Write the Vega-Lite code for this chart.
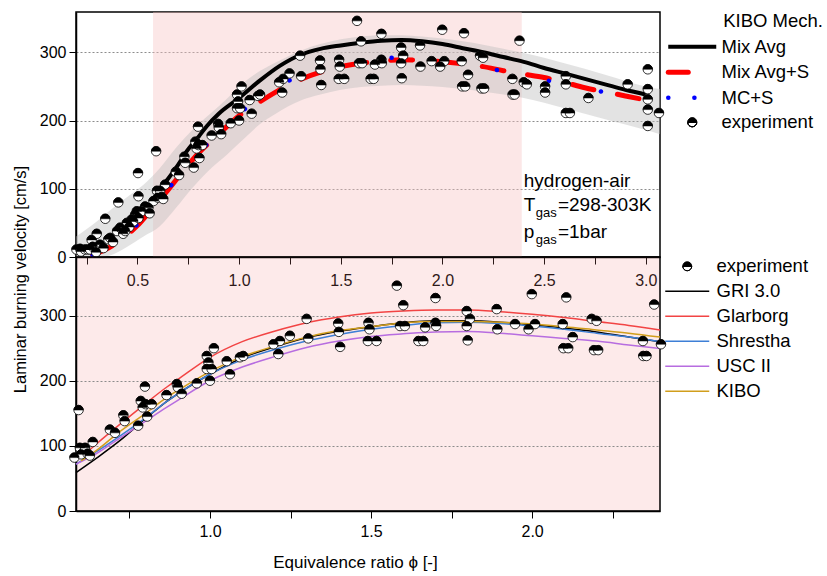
{
  "$schema": "https://vega.github.io/schema/vega-lite/v6.json",
  "background": "white",
  "padding": {"left": 11, "top": 11, "right": 0, "bottom": 0},
  "bounds": "flush",
  "spacing": 0,
  "resolve": {"scale": {"color": "independent"}, "legend": {"color": "independent"}},
  "config": {
    "font": "Liberation Sans",
    "axis": {"labelFont": "Liberation Sans", "titleFont": "Liberation Sans", "labelColor": "black", "titleColor": "black", "domainColor": "black", "tickColor": "black"},
    "legend": {"labelFont": "Liberation Sans", "titleFont": "Liberation Sans"}
  },
  "datasets": {
    "region": [{"x1": 0.577, "x2": 2.39}],
    "band": [
      {"phi": 0.198, "lo": 0, "hi": 30}, {"phi": 0.3, "lo": 0, "hi": 52}, {"phi": 0.36, "lo": 2, "hi": 67},
      {"phi": 0.45, "lo": 15, "hi": 88}, {"phi": 0.53, "lo": 30, "hi": 106}, {"phi": 0.61, "lo": 45, "hi": 130},
      {"phi": 0.69, "lo": 72, "hi": 160}, {"phi": 0.77, "lo": 101, "hi": 186}, {"phi": 0.855, "lo": 128, "hi": 209},
      {"phi": 0.94, "lo": 150, "hi": 232}, {"phi": 1.02, "lo": 172, "hi": 255}, {"phi": 1.1, "lo": 194, "hi": 272},
      {"phi": 1.18, "lo": 210, "hi": 285}, {"phi": 1.3, "lo": 229, "hi": 302}, {"phi": 1.4, "lo": 238, "hi": 312},
      {"phi": 1.5, "lo": 245, "hi": 319}, {"phi": 1.6, "lo": 249, "hi": 323}, {"phi": 1.7, "lo": 251, "hi": 325},
      {"phi": 1.8, "lo": 252, "hi": 325}, {"phi": 1.9, "lo": 251, "hi": 323}, {"phi": 2.0, "lo": 249, "hi": 320},
      {"phi": 2.1, "lo": 246, "hi": 316}, {"phi": 2.2, "lo": 242, "hi": 311}, {"phi": 2.3, "lo": 238, "hi": 305},
      {"phi": 2.4, "lo": 233, "hi": 299}, {"phi": 2.5, "lo": 226, "hi": 292}, {"phi": 2.6, "lo": 218, "hi": 284},
      {"phi": 2.7, "lo": 210, "hi": 276}, {"phi": 2.8, "lo": 202, "hi": 267}, {"phi": 2.9, "lo": 194, "hi": 258},
      {"phi": 3.0, "lo": 186, "hi": 250}, {"phi": 3.07, "lo": 180, "hi": 246}
    ],
    "toplines": [
      {"series": "Mix Avg", "phi": 0.58, "v": 92}, {"series": "Mix Avg", "phi": 0.612, "v": 101}, {"series": "Mix Avg", "phi": 0.7, "v": 135},
      {"series": "Mix Avg", "phi": 0.743, "v": 155}, {"series": "Mix Avg", "phi": 0.8, "v": 176}, {"series": "Mix Avg", "phi": 0.842, "v": 192},
      {"series": "Mix Avg", "phi": 0.9, "v": 210}, {"series": "Mix Avg", "phi": 1.0, "v": 233}, {"series": "Mix Avg", "phi": 1.1, "v": 258},
      {"series": "Mix Avg", "phi": 1.2, "v": 280}, {"series": "Mix Avg", "phi": 1.3, "v": 296}, {"series": "Mix Avg", "phi": 1.4, "v": 305},
      {"series": "Mix Avg", "phi": 1.5, "v": 310}, {"series": "Mix Avg", "phi": 1.6, "v": 314}, {"series": "Mix Avg", "phi": 1.7, "v": 317},
      {"series": "Mix Avg", "phi": 1.8, "v": 318}, {"series": "Mix Avg", "phi": 1.9, "v": 316}, {"series": "Mix Avg", "phi": 2.0, "v": 312},
      {"series": "Mix Avg", "phi": 2.1, "v": 306}, {"series": "Mix Avg", "phi": 2.2, "v": 300}, {"series": "Mix Avg", "phi": 2.3, "v": 293},
      {"series": "Mix Avg", "phi": 2.4, "v": 286}, {"series": "Mix Avg", "phi": 2.5, "v": 277}, {"series": "Mix Avg", "phi": 2.6, "v": 269},
      {"series": "Mix Avg", "phi": 2.7, "v": 261}, {"series": "Mix Avg", "phi": 2.8, "v": 253}, {"series": "Mix Avg", "phi": 2.9, "v": 245},
      {"series": "Mix Avg", "phi": 3.0, "v": 238},
      {"series": "Mix Avg+S", "phi": 0.28, "v": 3}, {"series": "Mix Avg+S", "phi": 0.35, "v": 12}, {"series": "Mix Avg+S", "phi": 0.43, "v": 28},
      {"series": "Mix Avg+S", "phi": 0.5, "v": 46}, {"series": "Mix Avg+S", "phi": 0.57, "v": 70}, {"series": "Mix Avg+S", "phi": 0.65, "v": 98},
      {"series": "Mix Avg+S", "phi": 0.75, "v": 135}, {"series": "Mix Avg+S", "phi": 0.8, "v": 152}, {"series": "Mix Avg+S", "phi": 0.9, "v": 180},
      {"series": "Mix Avg+S", "phi": 1.0, "v": 207}, {"series": "Mix Avg+S", "phi": 1.1, "v": 227}, {"series": "Mix Avg+S", "phi": 1.2, "v": 245},
      {"series": "Mix Avg+S", "phi": 1.3, "v": 260}, {"series": "Mix Avg+S", "phi": 1.4, "v": 271}, {"series": "Mix Avg+S", "phi": 1.5, "v": 279},
      {"series": "Mix Avg+S", "phi": 1.6, "v": 284}, {"series": "Mix Avg+S", "phi": 1.7, "v": 287}, {"series": "Mix Avg+S", "phi": 1.8, "v": 289},
      {"series": "Mix Avg+S", "phi": 1.9, "v": 288}, {"series": "Mix Avg+S", "phi": 2.0, "v": 286}, {"series": "Mix Avg+S", "phi": 2.1, "v": 283},
      {"series": "Mix Avg+S", "phi": 2.2, "v": 279}, {"series": "Mix Avg+S", "phi": 2.3, "v": 273}, {"series": "Mix Avg+S", "phi": 2.4, "v": 268},
      {"series": "Mix Avg+S", "phi": 2.5, "v": 263}, {"series": "Mix Avg+S", "phi": 2.6, "v": 256}, {"series": "Mix Avg+S", "phi": 2.7, "v": 248},
      {"series": "Mix Avg+S", "phi": 2.8, "v": 242}, {"series": "Mix Avg+S", "phi": 2.9, "v": 236}, {"series": "Mix Avg+S", "phi": 3.0, "v": 230},
      {"series": "MC+S", "phi": 0.28, "v": 3}, {"series": "MC+S", "phi": 0.35, "v": 13}, {"series": "MC+S", "phi": 0.43, "v": 30},
      {"series": "MC+S", "phi": 0.5, "v": 48}, {"series": "MC+S", "phi": 0.6, "v": 80}, {"series": "MC+S", "phi": 0.7, "v": 118},
      {"series": "MC+S", "phi": 0.8, "v": 152}, {"series": "MC+S", "phi": 0.9, "v": 183}, {"series": "MC+S", "phi": 1.0, "v": 210},
      {"series": "MC+S", "phi": 1.1, "v": 232}, {"series": "MC+S", "phi": 1.2, "v": 250}, {"series": "MC+S", "phi": 1.34, "v": 274},
      {"series": "MC+S", "phi": 1.4, "v": 280}, {"series": "MC+S", "phi": 1.5, "v": 286}, {"series": "MC+S", "phi": 1.6, "v": 291},
      {"series": "MC+S", "phi": 1.7, "v": 292}, {"series": "MC+S", "phi": 1.8, "v": 292}, {"series": "MC+S", "phi": 1.86, "v": 291},
      {"series": "MC+S", "phi": 2.0, "v": 287}, {"series": "MC+S", "phi": 2.1, "v": 282}, {"series": "MC+S", "phi": 2.25, "v": 275},
      {"series": "MC+S", "phi": 2.4, "v": 266}, {"series": "MC+S", "phi": 2.51, "v": 259}, {"series": "MC+S", "phi": 2.6, "v": 253},
      {"series": "MC+S", "phi": 2.77, "v": 243}, {"series": "MC+S", "phi": 2.9, "v": 235}, {"series": "MC+S", "phi": 3.0, "v": 229}
    ],
    "botlines": [
      {"model": "GRI 3.0", "phi": 0.584, "v": 59}, {"model": "GRI 3.0", "phi": 0.65, "v": 82}, {"model": "GRI 3.0", "phi": 0.72, "v": 108},
      {"model": "GRI 3.0", "phi": 0.8, "v": 142}, {"model": "GRI 3.0", "phi": 0.865, "v": 168}, {"model": "GRI 3.0", "phi": 0.9, "v": 180},
      {"model": "GRI 3.0", "phi": 1.0, "v": 210}, {"model": "GRI 3.0", "phi": 1.1, "v": 235}, {"model": "GRI 3.0", "phi": 1.2, "v": 252},
      {"model": "GRI 3.0", "phi": 1.3, "v": 266}, {"model": "GRI 3.0", "phi": 1.4, "v": 276}, {"model": "GRI 3.0", "phi": 1.5, "v": 283},
      {"model": "GRI 3.0", "phi": 1.6, "v": 289}, {"model": "GRI 3.0", "phi": 1.7, "v": 292}, {"model": "GRI 3.0", "phi": 1.8, "v": 292},
      {"model": "GRI 3.0", "phi": 1.9, "v": 290}, {"model": "GRI 3.0", "phi": 2.0, "v": 286}, {"model": "GRI 3.0", "phi": 2.1, "v": 281},
      {"model": "GRI 3.0", "phi": 2.2, "v": 275}, {"model": "GRI 3.0", "phi": 2.3, "v": 267}, {"model": "GRI 3.0", "phi": 2.397, "v": 260},
      {"model": "Glarborg", "phi": 0.6, "v": 82}, {"model": "Glarborg", "phi": 0.65, "v": 104}, {"model": "Glarborg", "phi": 0.72, "v": 133},
      {"model": "Glarborg", "phi": 0.8, "v": 165}, {"model": "Glarborg", "phi": 0.865, "v": 190}, {"model": "Glarborg", "phi": 0.9, "v": 202},
      {"model": "Glarborg", "phi": 1.0, "v": 236}, {"model": "Glarborg", "phi": 1.1, "v": 260}, {"model": "Glarborg", "phi": 1.2, "v": 276},
      {"model": "Glarborg", "phi": 1.3, "v": 289}, {"model": "Glarborg", "phi": 1.4, "v": 298}, {"model": "Glarborg", "phi": 1.5, "v": 304},
      {"model": "Glarborg", "phi": 1.6, "v": 307}, {"model": "Glarborg", "phi": 1.7, "v": 308.5}, {"model": "Glarborg", "phi": 1.8, "v": 308.5},
      {"model": "Glarborg", "phi": 1.9, "v": 306}, {"model": "Glarborg", "phi": 2.0, "v": 302}, {"model": "Glarborg", "phi": 2.1, "v": 297},
      {"model": "Glarborg", "phi": 2.2, "v": 291}, {"model": "Glarborg", "phi": 2.3, "v": 285}, {"model": "Glarborg", "phi": 2.397, "v": 278},
      {"model": "Shrestha", "phi": 0.584, "v": 72}, {"model": "Shrestha", "phi": 0.65, "v": 92}, {"model": "Shrestha", "phi": 0.72, "v": 115},
      {"model": "Shrestha", "phi": 0.8, "v": 143}, {"model": "Shrestha", "phi": 0.865, "v": 168}, {"model": "Shrestha", "phi": 0.9, "v": 180},
      {"model": "Shrestha", "phi": 1.0, "v": 210}, {"model": "Shrestha", "phi": 1.1, "v": 232}, {"model": "Shrestha", "phi": 1.2, "v": 248},
      {"model": "Shrestha", "phi": 1.3, "v": 261}, {"model": "Shrestha", "phi": 1.4, "v": 271}, {"model": "Shrestha", "phi": 1.5, "v": 279},
      {"model": "Shrestha", "phi": 1.6, "v": 285}, {"model": "Shrestha", "phi": 1.7, "v": 289}, {"model": "Shrestha", "phi": 1.8, "v": 290},
      {"model": "Shrestha", "phi": 1.9, "v": 288}, {"model": "Shrestha", "phi": 2.0, "v": 284}, {"model": "Shrestha", "phi": 2.1, "v": 279},
      {"model": "Shrestha", "phi": 2.2, "v": 273}, {"model": "Shrestha", "phi": 2.3, "v": 267}, {"model": "Shrestha", "phi": 2.397, "v": 260},
      {"model": "USC II", "phi": 0.584, "v": 72}, {"model": "USC II", "phi": 0.65, "v": 89}, {"model": "USC II", "phi": 0.72, "v": 112},
      {"model": "USC II", "phi": 0.8, "v": 138}, {"model": "USC II", "phi": 0.865, "v": 159}, {"model": "USC II", "phi": 0.9, "v": 170},
      {"model": "USC II", "phi": 1.0, "v": 200}, {"model": "USC II", "phi": 1.1, "v": 221}, {"model": "USC II", "phi": 1.2, "v": 237},
      {"model": "USC II", "phi": 1.3, "v": 251}, {"model": "USC II", "phi": 1.4, "v": 261}, {"model": "USC II", "phi": 1.5, "v": 268},
      {"model": "USC II", "phi": 1.6, "v": 272}, {"model": "USC II", "phi": 1.7, "v": 275}, {"model": "USC II", "phi": 1.8, "v": 275.5},
      {"model": "USC II", "phi": 1.9, "v": 273}, {"model": "USC II", "phi": 2.0, "v": 269}, {"model": "USC II", "phi": 2.1, "v": 265},
      {"model": "USC II", "phi": 2.2, "v": 261}, {"model": "USC II", "phi": 2.3, "v": 255}, {"model": "USC II", "phi": 2.397, "v": 249.5},
      {"model": "KIBO", "phi": 0.6, "v": 77}, {"model": "KIBO", "phi": 0.65, "v": 94}, {"model": "KIBO", "phi": 0.72, "v": 122},
      {"model": "KIBO", "phi": 0.8, "v": 150}, {"model": "KIBO", "phi": 0.865, "v": 174}, {"model": "KIBO", "phi": 0.9, "v": 185},
      {"model": "KIBO", "phi": 1.0, "v": 214}, {"model": "KIBO", "phi": 1.1, "v": 237}, {"model": "KIBO", "phi": 1.2, "v": 253},
      {"model": "KIBO", "phi": 1.3, "v": 267}, {"model": "KIBO", "phi": 1.4, "v": 277}, {"model": "KIBO", "phi": 1.5, "v": 283},
      {"model": "KIBO", "phi": 1.6, "v": 289}, {"model": "KIBO", "phi": 1.7, "v": 291}, {"model": "KIBO", "phi": 1.8, "v": 291},
      {"model": "KIBO", "phi": 1.9, "v": 290}, {"model": "KIBO", "phi": 2.0, "v": 287}, {"model": "KIBO", "phi": 2.1, "v": 283},
      {"model": "KIBO", "phi": 2.2, "v": 278}, {"model": "KIBO", "phi": 2.3, "v": 273}, {"model": "KIBO", "phi": 2.397, "v": 267}
    ],
    "exp": [
      {"phi": 0.2, "v": 11}, {"phi": 0.218, "v": 12}, {"phi": 0.223, "v": 8}, {"phi": 0.242, "v": 11}, {"phi": 0.256, "v": 11},
      {"phi": 0.267, "v": 11}, {"phi": 0.275, "v": 25}, {"phi": 0.28, "v": 15}, {"phi": 0.297, "v": 7}, {"phi": 0.3, "v": 34},
      {"phi": 0.316, "v": 18}, {"phi": 0.333, "v": 13}, {"phi": 0.342, "v": 56}, {"phi": 0.357, "v": 26}, {"phi": 0.366, "v": 28},
      {"phi": 0.38, "v": 22}, {"phi": 0.4, "v": 38}, {"phi": 0.406, "v": 80}, {"phi": 0.415, "v": 43}, {"phi": 0.43, "v": 34},
      {"phi": 0.44, "v": 38}, {"phi": 0.448, "v": 50}, {"phi": 0.46, "v": 44}, {"phi": 0.472, "v": 55}, {"phi": 0.48, "v": 52},
      {"phi": 0.489, "v": 62}, {"phi": 0.497, "v": 67}, {"phi": 0.503, "v": 123}, {"phi": 0.505, "v": 89}, {"phi": 0.505, "v": 57},
      {"phi": 0.52, "v": 67}, {"phi": 0.538, "v": 74}, {"phi": 0.554, "v": 72}, {"phi": 0.56, "v": 64}, {"phi": 0.579, "v": 82},
      {"phi": 0.592, "v": 155}, {"phi": 0.596, "v": 97}, {"phi": 0.6, "v": 87}, {"phi": 0.612, "v": 97}, {"phi": 0.62, "v": 88},
      {"phi": 0.627, "v": 85}, {"phi": 0.636, "v": 106}, {"phi": 0.689, "v": 125}, {"phi": 0.705, "v": 120}, {"phi": 0.731, "v": 147},
      {"phi": 0.735, "v": 138}, {"phi": 0.777, "v": 131}, {"phi": 0.785, "v": 169}, {"phi": 0.791, "v": 159}, {"phi": 0.798, "v": 191},
      {"phi": 0.8, "v": 164}, {"phi": 0.805, "v": 145}, {"phi": 0.819, "v": 164}, {"phi": 0.865, "v": 178}, {"phi": 0.897, "v": 195},
      {"phi": 0.9, "v": 190}, {"phi": 0.912, "v": 180}, {"phi": 0.959, "v": 196}, {"phi": 0.99, "v": 238}, {"phi": 0.995, "v": 228},
      {"phi": 0.99, "v": 218}, {"phi": 1.0, "v": 200}, {"phi": 1.005, "v": 218}, {"phi": 1.012, "v": 250}, {"phi": 1.052, "v": 230},
      {"phi": 1.062, "v": 210}, {"phi": 1.093, "v": 236}, {"phi": 1.103, "v": 238}, {"phi": 1.197, "v": 256}, {"phi": 1.212, "v": 241},
      {"phi": 1.217, "v": 261}, {"phi": 1.248, "v": 269}, {"phi": 1.3, "v": 295}, {"phi": 1.305, "v": 265}, {"phi": 1.398, "v": 288},
      {"phi": 1.4, "v": 275}, {"phi": 1.404, "v": 252}, {"phi": 1.49, "v": 261}, {"phi": 1.492, "v": 289}, {"phi": 1.495, "v": 279},
      {"phi": 1.517, "v": 261}, {"phi": 1.58, "v": 346}, {"phi": 1.59, "v": 284}, {"phi": 1.6, "v": 316}, {"phi": 1.605, "v": 284},
      {"phi": 1.647, "v": 261}, {"phi": 1.662, "v": 261}, {"phi": 1.668, "v": 282}, {"phi": 1.7, "v": 327}, {"phi": 1.7, "v": 289},
      {"phi": 1.702, "v": 284}, {"phi": 1.797, "v": 307}, {"phi": 1.797, "v": 284}, {"phi": 1.8, "v": 262}, {"phi": 1.807, "v": 295},
      {"phi": 1.89, "v": 310}, {"phi": 1.892, "v": 279}, {"phi": 1.947, "v": 287}, {"phi": 1.989, "v": 279}, {"phi": 1.999, "v": 333},
      {"phi": 2.009, "v": 287}, {"phi": 2.095, "v": 287}, {"phi": 2.097, "v": 250}, {"phi": 2.106, "v": 328}, {"phi": 2.112, "v": 250},
      {"phi": 2.126, "v": 267}, {"phi": 2.185, "v": 295}, {"phi": 2.2, "v": 292}, {"phi": 2.192, "v": 247}, {"phi": 2.205, "v": 247},
      {"phi": 2.344, "v": 261}, {"phi": 2.345, "v": 238}, {"phi": 2.355, "v": 238}, {"phi": 2.379, "v": 317}, {"phi": 2.4, "v": 256},
      {"phi": 2.415, "v": 253}, {"phi": 2.505, "v": 250}, {"phi": 2.505, "v": 241}, {"phi": 2.607, "v": 265}, {"phi": 2.607, "v": 253},
      {"phi": 2.607, "v": 211}, {"phi": 2.627, "v": 211}, {"phi": 2.718, "v": 233}, {"phi": 2.911, "v": 253}, {"phi": 3.01, "v": 275},
      {"phi": 3.01, "v": 246}, {"phi": 3.01, "v": 231}, {"phi": 3.01, "v": 216}, {"phi": 3.01, "v": 192}, {"phi": 3.065, "v": 211}
    ],
    "notes": [
      {"phi": 2.40, "v": 111, "text": "hydrogen-air"},
      {"phi": 2.40, "v": 76, "text": "T"},
      {"phi": 2.568, "v": 76, "text": "=298-303K"},
      {"phi": 2.40, "v": 37, "text": "p"},
      {"phi": 2.568, "v": 37, "text": "=1bar"}
    ],
    "subs": [
      {"phi": 2.459, "v": 65, "text": "gas"},
      {"phi": 2.459, "v": 25, "text": "gas"}
    ]
  },
  "vconcat": [
    {
      "width": 584,
      "height": 245,
      "view": {"stroke": "black", "strokeWidth": 1.5},
      "layer": [
        {
          "data": {"name": "region"},
          "mark": {"type": "rect", "color": "#f8c2c2", "opacity": 0.4},
          "encoding": {
            "x": {"field": "x1", "type": "quantitative", "scale": {"domain": [0.198, 3.07], "nice": false, "zero": false}},
            "x2": {"field": "x2"}
          }
        },
        {
          "data": {"name": "band"},
          "mark": {"type": "area", "color": "#bdbdbd", "opacity": 0.42, "interpolate": "monotone"},
          "encoding": {
            "x": {"field": "phi", "type": "quantitative", "scale": {"domain": [0.198, 3.07], "nice": false, "zero": false},
              "axis": {"title": null, "values": [0.25, 0.5, 0.75, 1.0, 1.25, 1.5, 1.75, 2.0, 2.25, 2.5, 2.75, 3.0],
                "labelExpr": "datum.value % 0.5 === 0 ? format(datum.value, '.1f') : ''",
                "tickSize": 7, "labelPadding": 8, "labelFontSize": 16, "grid": false, "domainWidth": 1.5, "labelFlush": false, "labelOverlap": false}},
            "y": {"field": "lo", "type": "quantitative", "scale": {"domain": [0, 359], "nice": false, "zero": false},
              "axis": {"title": null, "values": [0, 25, 50, 75, 100, 125, 150, 175, 200, 225, 250, 275, 300, 325, 350],
                "labelExpr": "datum.value % 50 === 0 ? datum.label : ''",
                "tickSize": {"condition": {"test": "datum.value % 50 === 0", "value": 7}, "value": 4},
                "grid": true, "gridDash": [2, 2], "gridColor": "#8c8c8c", "gridWidth": 1,
                "gridOpacity": {"condition": {"test": "datum.value % 50 === 0 && datum.value > 0", "value": 1}, "value": 0},
                "labelPadding": 3, "labelFontSize": 16, "domainWidth": 1.5, "labelOverlap": false}},
            "y2": {"field": "hi"}
          }
        },
        {
          "data": {"name": "toplines"},
          "transform": [{"filter": "datum.series === 'Mix Avg'"}],
          "mark": {"type": "line", "interpolate": "monotone", "strokeWidth": 4},
          "encoding": {
            "x": {"field": "phi", "type": "quantitative", "scale": {"domain": [0.198, 3.07], "nice": false, "zero": false}},
            "y": {"field": "v", "type": "quantitative", "scale": {"domain": [0, 359], "nice": false, "zero": false}},
            "color": {"field": "series", "type": "nominal",
              "scale": {"domain": ["Mix Avg", "Mix Avg+S", "MC+S", "experiment"], "range": ["black", "red", "blue", "black"]},
              "legend": {"title": "KIBO Mech.", "orient": "right", "offset": 4, "padding": 0,
                "titleFontSize": 18.5, "titleFontWeight": "normal", "titleColor": "black", "titleAnchor": "end", "titlePadding": 7,
                "labelFontSize": 18.5, "labelColor": "black", "labelOffset": 39, "rowPadding": 5.5, "symbolSize": 100, "labelLimit": 300,
                "encode": {
                  "title": {"update": {"dx": {"value": 10}}},
                  "symbols": {"update": {
                  "shape": {"signal": "datum.value === 'experiment' ? 'M2.9,0A0.9,0.9,0,0,1,4.7,0ZM2.9,0A0.9,0.9,0,0,0,4.7,0ZM4.7,0A0.9,0.9,0,0,1,2.9,0Z' : 'M-1,0L8.6,0'"},
                  "stroke": {"signal": "datum.value === 'Mix Avg+S' ? 'red' : datum.value === 'MC+S' ? 'blue' : 'black'"},
                  "strokeWidth": {"signal": "datum.value === 'Mix Avg' ? 4 : datum.value === 'Mix Avg+S' ? 5 : datum.value === 'MC+S' ? 4.5 : 1"},
                  "strokeDash": {"signal": "datum.value === 'Mix Avg+S' ? [20, 200] : datum.value === 'MC+S' ? [0.1, 26] : [1, 0]"},
                  "strokeCap": {"signal": "datum.value === 'Mix Avg' ? 'butt' : 'round'"},
                  "fill": {"signal": "datum.value === 'experiment' ? 'black' : 'transparent'"},
                  "opacity": {"value": 1}
                }}}}
            }
          }
        },
        {
          "data": {"name": "toplines"},
          "transform": [{"filter": "datum.series === 'Mix Avg+S'"}],
          "mark": {"type": "line", "interpolate": "monotone", "strokeWidth": 5, "strokeDash": [22, 24], "strokeCap": "round"},
          "encoding": {
            "x": {"field": "phi", "type": "quantitative", "scale": {"domain": [0.198, 3.07], "nice": false, "zero": false}},
            "y": {"field": "v", "type": "quantitative", "scale": {"domain": [0, 359], "nice": false, "zero": false}},
            "color": {"field": "series", "type": "nominal",
              "scale": {"domain": ["Mix Avg", "Mix Avg+S", "MC+S", "experiment"], "range": ["black", "red", "blue", "black"]}}
          }
        },
        {
          "data": {"name": "toplines"},
          "transform": [{"filter": "datum.series === 'MC+S'"}],
          "mark": {"type": "line", "interpolate": "monotone", "strokeWidth": 4.5, "strokeDash": [0.1, 53], "strokeCap": "round"},
          "encoding": {
            "x": {"field": "phi", "type": "quantitative", "scale": {"domain": [0.198, 3.07], "nice": false, "zero": false}},
            "y": {"field": "v", "type": "quantitative", "scale": {"domain": [0, 359], "nice": false, "zero": false}},
            "color": {"field": "series", "type": "nominal",
              "scale": {"domain": ["Mix Avg", "Mix Avg+S", "MC+S", "experiment"], "range": ["black", "red", "blue", "black"]}}
          }
        },
        {
          "data": {"name": "exp"},
          "mark": {"type": "point", "shape": "circle", "filled": true, "fill": "white", "stroke": "black", "strokeWidth": 0.8, "size": 90, "opacity": 1},
          "encoding": {
            "x": {"field": "phi", "type": "quantitative", "scale": {"domain": [0.198, 3.07], "nice": false, "zero": false}},
            "y": {"field": "v", "type": "quantitative", "scale": {"domain": [0, 359], "nice": false, "zero": false}}
          }
        },
        {
          "data": {"name": "exp"},
          "mark": {"type": "point", "shape": "M-1,0A1,1,0,0,1,1,0Z", "filled": true, "fill": "black", "stroke": "black", "strokeWidth": 0.5, "size": 90, "opacity": 1},
          "encoding": {
            "x": {"field": "phi", "type": "quantitative", "scale": {"domain": [0.198, 3.07], "nice": false, "zero": false}},
            "y": {"field": "v", "type": "quantitative", "scale": {"domain": [0, 359], "nice": false, "zero": false}}
          }
        },
        {
          "data": {"name": "notes"},
          "mark": {"type": "text", "align": "left", "baseline": "middle", "fontSize": 19, "font": "Liberation Sans", "color": "black"},
          "encoding": {
            "x": {"field": "phi", "type": "quantitative", "scale": {"domain": [0.198, 3.07], "nice": false, "zero": false}},
            "y": {"field": "v", "type": "quantitative", "scale": {"domain": [0, 359], "nice": false, "zero": false}},
            "text": {"field": "text"}
          }
        },
        {
          "data": {"name": "subs"},
          "mark": {"type": "text", "align": "left", "baseline": "middle", "fontSize": 13, "font": "Liberation Sans", "color": "black"},
          "encoding": {
            "x": {"field": "phi", "type": "quantitative", "scale": {"domain": [0.198, 3.07], "nice": false, "zero": false}},
            "y": {"field": "v", "type": "quantitative", "scale": {"domain": [0, 359], "nice": false, "zero": false}},
            "text": {"field": "text"}
          }
        }
      ]
    },
    {
      "width": 584,
      "height": 254,
      "view": {"fill": "#f28c8c", "fillOpacity": 0.18, "stroke": "black", "strokeWidth": 1.5},
      "layer": [
        {
          "data": {"name": "botlines"},
          "mark": {"type": "line", "interpolate": "monotone", "strokeWidth": 1.5},
          "encoding": {
            "x": {"field": "phi", "type": "quantitative", "scale": {"domain": [0.584, 2.397], "nice": false, "zero": false},
              "axis": {"title": "Equivalence ratio ϕ [-]", "values": [0.75, 1.0, 1.25, 1.5, 1.75, 2.0, 2.25],
                "labelExpr": "datum.value % 0.5 === 0 ? format(datum.value, '.1f') : ''",
                "tickSize": 7, "labelPadding": 5, "labelFontSize": 16, "grid": false, "domainWidth": 1.5,
                "titleFontSize": 17, "titleFontWeight": "normal", "titlePadding": 15, "titleX": 279, "labelOverlap": false}},
            "y": {"field": "v", "type": "quantitative", "scale": {"domain": [0, 390], "nice": false, "zero": false},
              "axis": {"title": "Laminar burning velocity [cm/s]", "values": [0, 25, 50, 75, 100, 125, 150, 175, 200, 225, 250, 275, 300, 325, 350, 375],
                "labelExpr": "datum.value % 50 === 0 ? datum.label : ''",
                "tickSize": {"condition": {"test": "datum.value % 50 === 0", "value": 7}, "value": 4},
                "grid": true, "gridDash": [2, 2], "gridColor": "#8c8c8c", "gridWidth": 1,
                "gridOpacity": {"condition": {"test": "datum.value % 50 === 0 && datum.value > 0", "value": 1}, "value": 0},
                "labelPadding": 3, "labelFontSize": 16, "domainWidth": 1.5, "labelOverlap": false,
                "titleFontSize": 16.5, "titleFontWeight": "normal", "titleX": -48, "titleY": 22, "titleAngle": 270, "titleBaseline": "bottom", "titleAlign": "center"}},
            "color": {"field": "model", "type": "nominal",
              "scale": {"domain": ["experiment", "GRI 3.0", "Glarborg", "Shrestha", "USC II", "KIBO"], "range": ["black", "black", "#f24444", "#3d7fd6", "#b76de0", "#d19e1c"]},
              "legend": {"title": null, "orient": "right", "offset": -2, "padding": 0,
                "labelFontSize": 18.5, "labelColor": "black", "labelOffset": 37, "rowPadding": 6, "symbolSize": 100, "labelLimit": 300,
                "encode": {"symbols": {"update": {
                  "shape": {"signal": "datum.value === 'experiment' ? 'M2.5,0A0.9,0.9,0,0,1,4.3,0ZM2.5,0A0.9,0.9,0,0,0,4.3,0ZM4.3,0A0.9,0.9,0,0,1,2.5,0Z' : 'M-1,0L7.8,0'"},
                  "stroke": {"signal": "datum.value === 'Glarborg' ? '#f24444' : datum.value === 'Shrestha' ? '#3d7fd6' : datum.value === 'USC II' ? '#b76de0' : datum.value === 'KIBO' ? '#d19e1c' : 'black'"},
                  "strokeWidth": {"signal": "datum.value === 'experiment' ? 1 : 1.5"},
                  "fill": {"signal": "datum.value === 'experiment' ? 'black' : 'transparent'"},
                  "opacity": {"value": 1}
                }}}}
            }
          }
        },
        {
          "data": {"name": "exp"},
          "transform": [{"filter": "datum.phi >= 0.575 && datum.phi <= 2.405"}],
          "mark": {"type": "point", "shape": "circle", "filled": true, "fill": "white", "stroke": "black", "strokeWidth": 0.8, "size": 90, "opacity": 1},
          "encoding": {
            "x": {"field": "phi", "type": "quantitative", "scale": {"domain": [0.584, 2.397], "nice": false, "zero": false}},
            "y": {"field": "v", "type": "quantitative", "scale": {"domain": [0, 390], "nice": false, "zero": false}}
          }
        },
        {
          "data": {"name": "exp"},
          "transform": [{"filter": "datum.phi >= 0.575 && datum.phi <= 2.405"}],
          "mark": {"type": "point", "shape": "M-1,0A1,1,0,0,1,1,0Z", "filled": true, "fill": "black", "stroke": "black", "strokeWidth": 0.5, "size": 90, "opacity": 1},
          "encoding": {
            "x": {"field": "phi", "type": "quantitative", "scale": {"domain": [0.584, 2.397], "nice": false, "zero": false}},
            "y": {"field": "v", "type": "quantitative", "scale": {"domain": [0, 390], "nice": false, "zero": false}}
          }
        }
      ]
    }
  ]
}
